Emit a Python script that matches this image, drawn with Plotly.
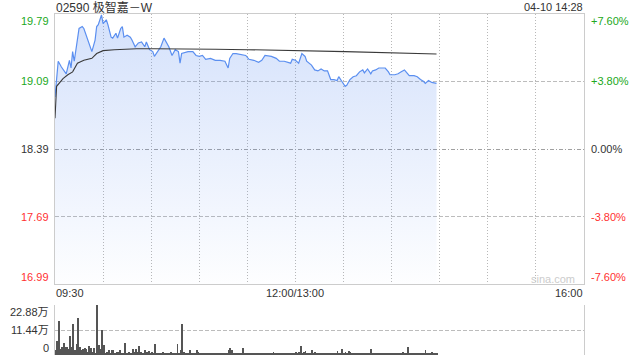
import plotly.graph_objects as go

# ---------------- data ----------------
title_text = "02590 极智嘉－W"
stamp_text = "04-10 14:28"
prev_close = 18.39

price_times = ["09:30","09:31","09:32","09:34","09:37","09:39","09:40","09:41","09:42","09:45",
               "09:47","09:48","09:50","09:52","09:53","09:55","09:56","09:57","09:59","10:00",
               "10:02","10:03","10:05","10:06","10:07","10:08","10:09","10:11","10:12","10:13",
               "10:15","10:17","10:18","10:20","10:22","10:24","10:26","10:27","10:29","10:31",
               "10:32","10:34","10:36","10:38","10:40","10:41","10:43","10:45","10:47","10:48",
               "10:49","10:51","10:53","10:56","10:58","11:00","11:02","11:04","11:07","11:10",
               "11:13","11:16","11:18","11:19","11:21","11:23","11:26","11:29","11:31","11:34",
               "11:37","11:39","11:41","11:45","11:48","11:50","11:53","11:57","11:58","13:00",
               "13:02","13:04","13:06","13:07","13:10","13:12","13:14","13:16","13:18","13:20",
               "13:22","13:24","13:26","13:27","13:29","13:31","13:32","13:34","13:36","13:38",
               "13:40","13:42","13:43","13:45","13:47","13:48","13:50","13:52","13:54","13:56",
               "13:58","13:59","14:02","14:04","14:06","14:08","14:09","14:11","14:14","14:16",
               "14:18","14:20","14:21","14:23","14:25","14:28"]
price_values = [18.93,19.09,19.30,19.24,19.17,19.31,19.23,19.40,19.30,19.64,
                19.66,19.64,19.54,19.43,19.40,19.52,19.66,19.68,19.78,19.69,
                19.73,19.68,19.55,19.54,19.57,19.59,19.54,19.64,19.66,19.55,
                19.57,19.55,19.52,19.45,19.49,19.50,19.45,19.50,19.42,19.40,
                19.35,19.40,19.45,19.54,19.47,19.45,19.36,19.42,19.40,19.28,
                19.38,19.39,19.40,19.40,19.36,19.35,19.36,19.32,19.33,19.31,
                19.31,19.30,19.23,19.33,19.38,19.38,19.37,19.36,19.32,19.31,
                19.29,19.31,19.36,19.35,19.33,19.30,19.30,19.28,19.32,19.31,
                19.28,19.38,19.35,19.30,19.26,19.21,19.20,19.22,19.20,19.20,
                19.11,19.11,19.10,19.14,19.09,19.04,19.05,19.11,19.14,19.15,
                19.19,19.21,19.18,19.22,19.17,19.20,19.21,19.23,19.23,19.23,
                19.19,19.16,19.16,19.17,19.19,19.21,19.19,19.15,19.15,19.14,
                19.11,19.09,19.07,19.10,19.08,19.07]

avg_times = ["09:30","09:31","09:35","09:38","09:41","09:44","09:48","09:53","09:56","10:00",
             "10:07","10:21","10:32","10:48","11:10","11:30","13:12","13:31","14:28"]
avg_values = [18.71,19.04,19.12,19.16,19.19,19.28,19.31,19.33,19.38,19.41,
              19.42,19.43,19.43,19.43,19.425,19.42,19.41,19.40,19.375]

# volume per minute (万), from 09:30 onward (lunch break merged)
volume = [2.3,6.6,15.4,2.6,3.8,5.7,3.8,3.8,2.6,8.8,
          3.8,14.3,2.3,5.1,17.1,3.8,2.3,2.6,3.1,2.6,
          1.5,4.2,3.1,1.5,3.1,1.1,22.88,4.6,2.6,11.6,
          4.6,1.1,1.5,2.3,1.0,2.3,2.3,1.0,1.5,1.5,
          2.3,1.0,0.8,5.7,1.0,0.5,1.5,1.0,2.6,1.5,
          2.6,1.5,4.2,1.5,1.0,0.8,2.3,1.5,2.0,1.0,
          1.5,0.8,5.1,0.8,0.6,0.6,1.0,1.5,0.8,0.6,
          0.8,1.0,1.5,0.8,0.6,0.8,5.1,0.6,2.3,14.0,
          1.5,0.8,0.6,0.8,2.3,0.6,0.8,0.5,2.3,1.5,
          0.8,0.5,0.6,0.6,0.6,0.8,0.5,0.6,0.8,1.0,
          0.6,0.5,0.6,1.0,0.8,0.6,0.5,1.0,2.3,3.4,
          2.3,1.0,0.8,0.6,0.5,0.8,1.0,3.4,1.0,0.8,
          0.6,0.6,0.8,1.0,0.5,0.6,1.0,0.5,0.6,0.8,
          0.5,0.6,0.8,0.6,0.5,1.0,1.3,0.8,1.0,0.6,
          0.5,0.6,0.8,0.5,0.6,0.8,0.6,1.0,0.5,0.8,
          1.3,0.6,1.5,4.2,1.0,1.3,2.0,0.8,1.0,0.6,
          2.3,1.0,1.5,0.8,0.6,0.5,0.8,0.6,1.0,0.8,
          0.6,1.0,0.8,0.6,0.5,0.8,2.0,0.6,0.5,2.6,
          1.0,1.3,0.8,2.0,1.5,0.8,1.0,0.6,0.5,0.8,
          1.0,0.6,0.8,0.6,0.5,0.8,0.6,2.6,0.8,1.0,
          0.6,0.8,0.5,0.6,0.8,1.0,0.6,0.8,0.5,0.6,
          1.0,0.6,0.5,0.8,0.6,0.5,0.8,1.5,1.0,1.0,
          3.7,0.8,0.6,0.8,0.5,0.6,1.0,0.8,0.6,0.5,
          0.8,2.3,1.0,0.6,0.8,1.5,0.6,0.8,0.5]

price_ticks = [19.79, 19.09, 18.39, 17.69, 16.99]
price_tick_labels = ["19.79", "19.09", "18.39", "17.69", "16.99"]
pct_tick_labels = ["+7.60%", "+3.80%", "0.00%", "-3.80%", "-7.60%"]
vol_ticks = [22.88, 11.44, 0]
vol_tick_labels = ["22.88万", "11.44万", "0"]
time_labels = ["09:30", "12:00/13:00", "16:00"]
time_label_pos = [0, 150, 330]
session_minutes = 330

# ---------------- helpers ----------------
def tidx(t):
    h, m = map(int, t.split(":"))
    mins = h * 60 + m
    if mins <= 12 * 60:
        return mins - (9 * 60 + 30)
    return 150 + mins - 13 * 60

GREEN = "#21a821"
RED = "#ff3131"
DARK = "#333333"
GRID = "#b8b8b8"
HGRID = "#bcbcbc"
DOT = "1px,2px"
HDOT = "4px,2px"
FONT = "Arial, 'Liberation Sans', 'Noto Sans CJK SC', sans-serif"

px = [tidx(t) for t in price_times]
ax = [tidx(t) for t in avg_times]

fig = go.Figure()
fig.add_trace(go.Scatter(
    x=px, y=price_values, mode="lines",
    line=dict(color="#5b8ff0", width=1.2),
    fill="tozeroy",
    fillgradient=dict(type="vertical", start=16.99, stop=19.79,
                      colorscale=[[0, "rgba(90,140,240,0.01)"], [1, "rgba(90,140,240,0.26)"]]),
    hoverinfo="skip", xaxis="x", yaxis="y"))
fig.add_trace(go.Scatter(
    x=ax, y=avg_values, mode="lines",
    line=dict(color="#3a3a3a", width=1.1),
    hoverinfo="skip", xaxis="x", yaxis="y"))
fig.add_trace(go.Bar(
    x=list(range(len(volume))), y=volume, width=0.55,
    marker=dict(color="#555555", line=dict(width=0)),
    hoverinfo="skip", xaxis="x2", yaxis="y2"))

XD = [55 / 640, 584 / 640]
PD = [1 - 284 / 360, 1 - 14 / 360]
VD = [1 - 355 / 360, 1 - 305 / 360]
fig.update_layout(
    width=640, height=360, margin=dict(l=0, r=0, t=0, b=0),
    paper_bgcolor="white", plot_bgcolor="white", showlegend=False,
    font=dict(family=FONT, size=11, color=DARK),
    bargap=0,
    xaxis=dict(domain=XD, range=[0, session_minutes], anchor="y",
               tickvals=list(range(30, session_minutes, 30)), showticklabels=False,
               showgrid=True, gridcolor=GRID, griddash=DOT, gridwidth=1,
               showline=True, mirror=True, linecolor="#cccccc", linewidth=1,
               zeroline=False, ticks=""),
    yaxis=dict(domain=PD, range=[16.99, 19.79], anchor="x",
               showticklabels=False, showgrid=False,
               showline=True, mirror=True, linecolor="#cccccc", linewidth=1,
               zeroline=False, ticks=""),
    yaxis3=dict(domain=PD, range=[16.99, 19.79], overlaying="y", anchor="x", side="right",
                tickvals=[prev_close], showticklabels=False,
                showgrid=True, gridcolor="#a0a0a0", griddash="4px,2px,1px,2px", gridwidth=1,
                showline=False, zeroline=False, ticks=""),
    yaxis4=dict(domain=PD, range=[16.99, 19.79], overlaying="y", anchor="x", side="right",
                tickvals=[19.09, 17.69], showticklabels=False,
                showgrid=True, gridcolor=HGRID, griddash=HDOT, gridwidth=1,
                showline=False, zeroline=False, ticks=""),
    xaxis2=dict(domain=XD, range=[-0.5, session_minutes], anchor="y2",
                showticklabels=False, showgrid=False, showline=False, zeroline=False),
    yaxis2=dict(domain=VD, range=[0, 22.88], anchor="x2",
                showticklabels=False, showgrid=False,
                showline=True, mirror=True, linecolor="#cccccc", linewidth=1,
                zeroline=False, ticks=""),
    yaxis5=dict(domain=VD, range=[0, 22.88], overlaying="y2", anchor="x2", side="right",
                tickvals=[0.2, 11.44, 22.7], showticklabels=False,
                showgrid=True, gridcolor=HGRID, griddash=HDOT, gridwidth=1,
                showline=False, zeroline=False, ticks=""),
)

# invisible traces that activate the overlaying grid axes
fig.add_trace(go.Scatter(x=[0], y=[prev_close], mode="lines", line=dict(width=0),
                         hoverinfo="skip", xaxis="x", yaxis="y3", showlegend=False))
fig.add_trace(go.Scatter(x=[0], y=[prev_close], mode="lines", line=dict(width=0),
                         hoverinfo="skip", xaxis="x", yaxis="y4", showlegend=False))
fig.add_trace(go.Scatter(x=[0], y=[0], mode="lines", line=dict(width=0),
                         hoverinfo="skip", xaxis="x2", yaxis="y5", showlegend=False))

ann = []
def color_for(i):
    return GREEN if i < 2 else (DARK if i == 2 else RED)

for i, (v, lab, pl) in enumerate(zip(price_ticks, price_tick_labels, pct_tick_labels)):
    ya = "top" if i == 0 else ("bottom" if i == 4 else "middle")
    ann.append(dict(x=50 / 640, xref="paper", y=v, yref="y", text=lab, showarrow=False,
                    xanchor="right", yanchor=ya, font=dict(color=color_for(i), size=11)))
    ann.append(dict(x=590 / 640, xref="paper", y=v, yref="y", text=pl, showarrow=False,
                    xanchor="left", yanchor=ya, font=dict(color=color_for(i), size=11)))

for i, (v, lab) in enumerate(zip(vol_ticks, vol_tick_labels)):
    ya = "top" if i == 0 else ("bottom" if i == 2 else "middle")
    ann.append(dict(x=50 / 640, xref="paper", y=v, yref="y2", text=lab, showarrow=False,
                    xanchor="right", yanchor=ya, font=dict(color=DARK, size=11)))

for lab, pos, xa in zip(time_labels, time_label_pos, ["left", "center", "right"]):
    ann.append(dict(x=pos, xref="x", y=1 - 293 / 360, yref="paper", text=lab, showarrow=False,
                    xanchor=xa, yanchor="middle", font=dict(color=DARK, size=11)))

ann.append(dict(x=55 / 640, xref="paper", y=1 - 7 / 360, yref="paper", text=title_text,
                showarrow=False, xanchor="left", yanchor="middle",
                font=dict(color=DARK, size=12)))
ann.append(dict(x=584 / 640, xref="paper", y=1 - 7 / 360, yref="paper", text=stamp_text,
                showarrow=False, xanchor="right", yanchor="middle",
                font=dict(color=DARK, size=11)))
ann.append(dict(x=553 / 640, xref="paper", y=1 - 279 / 360, yref="paper", text="sina.com",
                showarrow=False, xanchor="center", yanchor="middle",
                font=dict(color="#cccccc", size=11)))

fig.update_layout(annotations=ann)
for a in fig.layout.annotations:
    a.update(borderpad=0)

fig.write_html("out.html", config={"displayModeBar": False})
